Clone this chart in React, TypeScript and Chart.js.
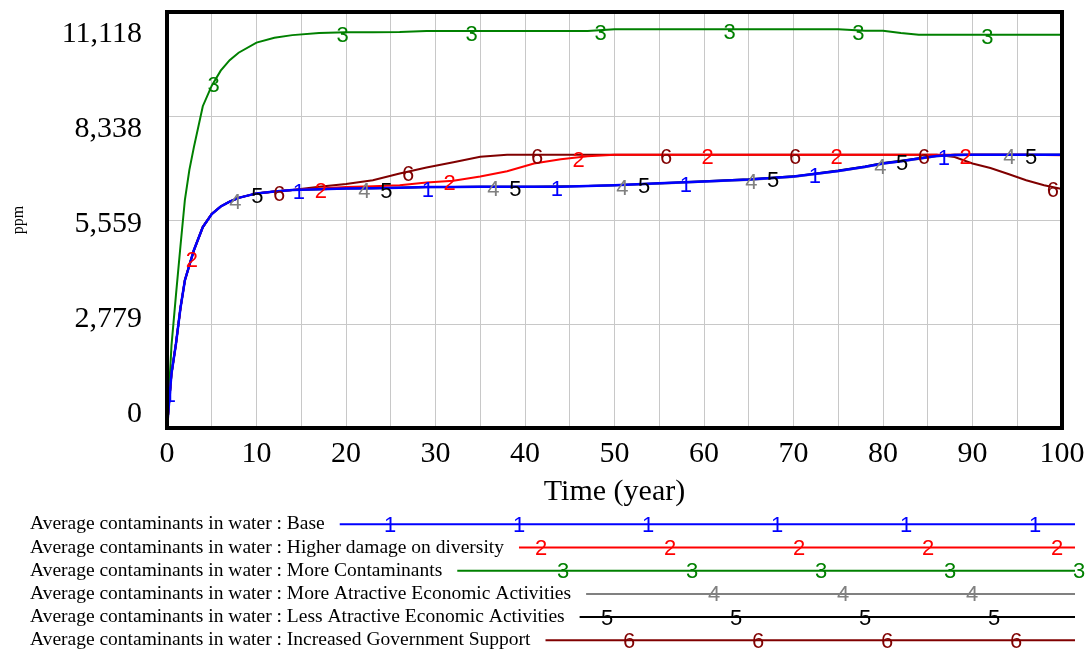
import React, { useEffect, useRef } from "react";
import { Chart, registerables } from "chart.js";

Chart.register(...registerables);

// ---------- data ----------
const TIMES = [0, 0.5, 1, 1.5, 2, 2.5, 3, 4, 5, 6, 7, 8, 10, 12, 14, 17, 20, 23, 26, 29, 32, 35, 38, 41, 44, 47, 50, 55, 60, 65, 70, 75, 78, 80, 82, 84, 86, 88, 90, 92, 94, 96, 98, 100];

const BASE = [0, 1450, 2250, 3200, 3950, 4350, 4750, 5370, 5720, 5920, 6050, 6150, 6270, 6320, 6360, 6380, 6400, 6410, 6420, 6440, 6440, 6445, 6450, 6450, 6450, 6470, 6490, 6540, 6590, 6640, 6720, 6870, 6980, 7070, 7130, 7200, 7270, 7295, 7305, 7305, 7305, 7305, 7305, 7305];
const HIGHER_DAMAGE = [0, 1450, 2250, 3200, 3950, 4350, 4750, 5370, 5720, 5920, 6050, 6150, 6270, 6320, 6360, 6400, 6440, 6460, 6490, 6560, 6610, 6720, 6860, 7070, 7180, 7260, 7305, 7305, 7305, 7305, 7305, 7305, 7305, 7305, 7305, 7305, 7305, 7305, 7305, 7305, 7300, 7300, 7295, 7290];
const MORE_CONTAMINANTS = [0, 2200, 3550, 4850, 6100, 6900, 7500, 8600, 9150, 9550, 9830, 10030, 10300, 10430, 10500, 10560, 10575, 10580, 10585, 10610, 10610, 10610, 10610, 10610, 10610, 10610, 10660, 10660, 10660, 10660, 10660, 10660, 10616, 10616, 10554, 10508, 10508, 10508, 10508, 10508, 10508, 10508, 10508, 10508];
const MORE_ATTRACTIVE = [0, 1450, 2250, 3200, 3950, 4350, 4750, 5370, 5720, 5920, 6050, 6150, 6270, 6320, 6360, 6380, 6400, 6410, 6420, 6435, 6440, 6445, 6450, 6450, 6455, 6465, 6485, 6530, 6580, 6630, 6710, 6860, 6970, 7060, 7120, 7190, 7260, 7290, 7305, 7305, 7305, 7305, 7305, 7305];
const LESS_ATTRACTIVE = [0, 1450, 2250, 3200, 3950, 4350, 4750, 5370, 5720, 5920, 6050, 6150, 6270, 6320, 6360, 6380, 6400, 6410, 6420, 6440, 6440, 6445, 6450, 6450, 6460, 6470, 6490, 6540, 6595, 6645, 6725, 6880, 6990, 7080, 7140, 7210, 7275, 7300, 7305, 7305, 7305, 7305, 7305, 7305];
const GOV_SUPPORT = [0, 1450, 2250, 3200, 3950, 4350, 4750, 5370, 5720, 5920, 6050, 6150, 6270, 6320, 6360, 6450, 6520, 6620, 6800, 6960, 7100, 7250, 7305, 7305, 7305, 7305, 7305, 7305, 7305, 7305, 7305, 7305, 7305, 7305, 7305, 7300, 7300, 7240, 7070, 6950, 6790, 6620, 6490, 6390];

const SERIES_NAMES = [
  "Average contaminants in water : Base",
  "Average contaminants in water : Higher damage on diversity",
  "Average contaminants in water : More Contaminants",
  "Average contaminants in water : More Atractive Economic Activities",
  "Average contaminants in water : Less Atractive Economic Activities",
  "Average contaminants in water : Increased Government Support",
];
const SERIES_VALUES = [BASE, HIGHER_DAMAGE, MORE_CONTAMINANTS, MORE_ATTRACTIVE, LESS_ATTRACTIVE, GOV_SUPPORT];
const SERIES_COLORS = ["#0000ff", "#ff0000", "#008000", "#808080", "#000000", "#800000"];
const SERIES_WIDTHS = [2.5, 2, 2, 2, 2, 2];

const Y_MAX = 11118;
const Y_TICK_VALUES = [0, 2779.5, 5559, 8338.5, 11118];
const Y_TICK_LABELS = ["0", "2,779", "5,559", "8,338", "11,118"];
const X_TICK_LABELS = ["0", "10", "20", "30", "40", "50", "60", "70", "80", "90", "100"];

// ---------- style constants ----------
const SERIF = '"Liberation Serif", "Times New Roman", serif';
const SANS = '"Liberation Sans", Arial, sans-serif';
const GRID = "#c8c8c8";
// label axis range (labels are spread a bit tighter than the grid, as in the original)
const YL_MIN = -410;
const YL_MAX = 11761;
// marker placement along the curves (time units)
const MARKER_START = 0.33;
const MARKER_SHIFT = 2.44;
const MARKER_STEP = 14.41;
const MARKER_DROP = 3.5;
// legend layout
const LEGEND_X = 30;
const LEGEND_Y0 = 524.3;
const LEGEND_DY = 23.2;
const LEGEND_LINE_END = 1075;
const LEGEND_GAP = 15;
const LEGEND_MARK_X0 = 390;
const LEGEND_MARK_SHIFT = 22;
const LEGEND_MARK_STEP = 129;

function valueAt(data: { x: number; y: number }[], t: number): number {
  for (let i = 1; i < data.length; i++) {
    if (t <= data[i].x) {
      const a = data[i - 1], b = data[i];
      const f = (t - a.x) / (b.x - a.x);
      return a.y + f * (b.y - a.y);
    }
  }
  return data[data.length - 1].y;
}

const markerPlugin = {
  id: "vensimMarkers",
  afterDatasetsDraw(chart: any) {
    const ctx = chart.ctx;
    const xs = chart.scales.x, ys = chart.scales.y;
    const area = chart.chartArea;
    ctx.save();
    ctx.beginPath();
    ctx.rect(area.left, area.top - 20, area.right - area.left + 10, area.bottom - area.top + 20);
    ctx.clip();
    ctx.font = `22px ${SANS}`;
    ctx.textAlign = "center";
    ctx.textBaseline = "middle";
    chart.data.datasets.forEach((ds: any, i: number) => {
      ctx.fillStyle = ds.borderColor;
      for (let t = MARKER_START + i * MARKER_SHIFT; t <= 100; t += MARKER_STEP) {
        const v = valueAt(ds.data, t);
        ctx.fillText(String(i + 1), xs.getPixelForValue(t), ys.getPixelForValue(v) + MARKER_DROP);
      }
    });
    ctx.restore();

    // frame
    ctx.save();
    ctx.strokeStyle = "#000";
    ctx.lineWidth = 4;
    ctx.strokeRect(area.left, area.top, area.right - area.left, area.bottom - area.top);
    ctx.restore();
  },
};

const legendPlugin = {
  id: "vensimLegend",
  afterDraw(chart: any) {
    const ctx = chart.ctx;
    ctx.save();
    chart.data.datasets.forEach((ds: any, i: number) => {
      const y = LEGEND_Y0 + i * LEGEND_DY;
      ctx.font = `19.5px ${SERIF}`;
      ctx.textAlign = "left";
      ctx.textBaseline = "middle";
      ctx.fillStyle = "#000";
      ctx.fillText(ds.label, LEGEND_X, y);
      const start = LEGEND_X + ctx.measureText(ds.label).width + LEGEND_GAP;
      ctx.strokeStyle = ds.borderColor;
      ctx.lineWidth = 2;
      ctx.beginPath();
      ctx.moveTo(start, y);
      ctx.lineTo(LEGEND_LINE_END, y);
      ctx.stroke();
      ctx.font = `22px ${SANS}`;
      ctx.textAlign = "center";
      ctx.fillStyle = ds.borderColor;
      for (let x = LEGEND_MARK_X0 + i * LEGEND_MARK_SHIFT; x <= LEGEND_LINE_END + 5; x += LEGEND_MARK_STEP) {
        if (x > start + 4) ctx.fillText(String(i + 1), x, y + 1.5);
      }
    });
    ctx.restore();
  },
};

export default function App() {
  const canvasRef = useRef<HTMLCanvasElement | null>(null);

  useEffect(() => {
    if (!canvasRef.current) return;
    const datasets = SERIES_VALUES.map((vals, i) => ({
      label: SERIES_NAMES[i],
      data: TIMES.map((t, k) => ({ x: t, y: vals[k] })),
      borderColor: SERIES_COLORS[i],
      backgroundColor: SERIES_COLORS[i],
      borderWidth: SERIES_WIDTHS[i],
      pointRadius: 0,
      tension: 0,
      fill: false,
      yAxisID: "y",
      xAxisID: "x",
    }));

    const chart = new Chart(canvasRef.current, {
      type: "line",
      data: { datasets },
      options: {
        animation: false,
        responsive: false,
        layout: { padding: { top: 12, right: 29, left: 0, bottom: 0 } },
        plugins: { legend: { display: false }, tooltip: { enabled: false } },
        scales: {
          x: {
            type: "linear",
            min: 0,
            max: 100,
            afterBuildTicks: (s: any) => {
              const arr = [];
              for (let v = 0; v <= 100; v += 5) arr.push({ value: v });
              s.ticks = arr;
            },
            afterFit: (s: any) => {
              s.height = 227;
              s.paddingLeft = 0;
              s.paddingRight = 0;
              s.paddingTop = 0;
              s.paddingBottom = 0;
            },
            grid: { color: GRID, lineWidth: 1, drawTicks: false },
            border: { display: false },
            ticks: {
              autoSkip: false,
              maxRotation: 0,
              padding: 8,
              color: "#000",
              font: { family: SERIF, size: 30 },
              callback: (v: any) => (Number(v) % 10 === 0 ? X_TICK_LABELS[Number(v) / 10] : ""),
            },
            title: {
              display: true,
              text: "Time (year)",
              color: "#000",
              font: { family: SERIF, size: 30 },
              padding: { top: 0, bottom: 145 },
            },
          },
          y: {
            type: "linear",
            position: "left",
            min: 0,
            max: Y_MAX,
            weight: 1,
            afterBuildTicks: (s: any) => { s.ticks = Y_TICK_VALUES.map((v) => ({ value: v })); },
            afterFit: (s: any) => {
              s.width = 0;
              s.paddingTop = 0;
              s.paddingBottom = 0;
              s.paddingLeft = 0;
              s.paddingRight = 0;
            },
            grid: { color: GRID, lineWidth: 1, drawTicks: false },
            border: { display: false },
            ticks: { display: false },
          },
          yl: {
            type: "linear",
            position: "left",
            min: YL_MIN,
            max: YL_MAX,
            weight: 2,
            afterBuildTicks: (s: any) => { s.ticks = Y_TICK_VALUES.map((v) => ({ value: v })); },
            afterFit: (s: any) => {
              s.width = 167;
              s.paddingTop = 0;
              s.paddingBottom = 0;
              s.paddingLeft = 0;
              s.paddingRight = 0;
            },
            grid: { display: false, drawTicks: false },
            border: { display: false },
            ticks: {
              autoSkip: false,
              padding: 25,
              color: "#000",
              font: { family: SERIF, size: 30 },
              callback: (_v: any, i: number) => Y_TICK_LABELS[i],
            },
            title: {
              display: true,
              text: "ppm",
              color: "#000",
              font: { family: SERIF, size: 16 },
              padding: { top: 9, bottom: 0 },
            },
          },
        },
      },
      plugins: [markerPlugin, legendPlugin],
    } as any);

    return () => chart.destroy();
  }, []);

  return (
    <div style={{ position: "fixed", left: 0, top: 0, width: 1091, height: 655, background: "#fff" }}>
      <canvas ref={canvasRef} width={1091} height={655} style={{ width: 1091, height: 655, display: "block" }} />
    </div>
  );
}
